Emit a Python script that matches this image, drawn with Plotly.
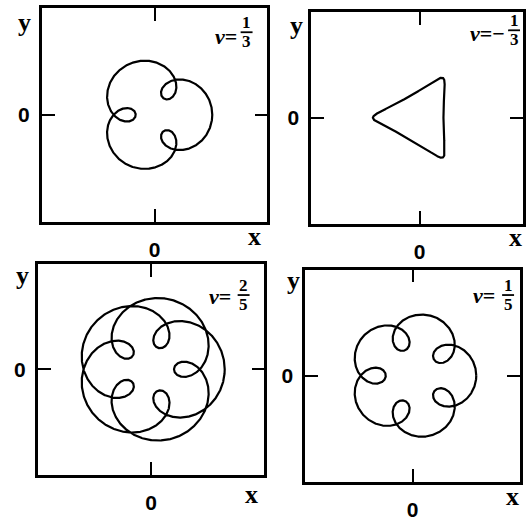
import numpy as np
import plotly.graph_objects as go

# Orbit parameters for the four panels (frequency ratio nu = p/q)
nu_num = [1, -1, 2, 1]
nu_den = [3, 3, 5, 5]
guiding_radius = [0.77, 0.71, 0.97, 0.91]
epicycle_radius = [0.39, 0.23, 0.51, 0.37]
epicycle_phase_deg = [0, 180, 0, 0]
nu_sign = ["", "\u2212", "", ""]
tick_labels = ["0"]

W, H = 526, 521
PX = 50.0  # pixels per data unit

# panel frames in pixels: (left, right, top, bottom); the right-hand frame may run past the page
frames = [
    (42, 269, 8, 227),
    (313, 531, 12, 229),
    (38, 266, 270, 486),
    (307, 523, 276, 493),
]

fig = go.Figure()

for i in range(4):
    nu = nu_num[i] / nu_den[i]
    u = np.linspace(0, 2 * np.pi * nu_den[i], 3000)
    phi = np.deg2rad(epicycle_phase_deg[i])
    z = guiding_radius[i] * np.exp(1j * nu * u) + epicycle_radius[i] * np.exp(1j * ((nu + 1) * u + phi))
    ax = "" if i == 0 else str(i + 1)
    fig.add_trace(go.Scatter(
        x=z.real, y=z.imag, mode="lines",
        line=dict(color="black", width=2.2),
        xaxis="x" + ax, yaxis="y" + ax, hoverinfo="skip",
    ))

    l, r, t, b = frames[i]
    cx, cy = (l + r) / 2, (t + b) / 2
    rc = min(r, W)
    common = dict(
        showline=True, linewidth=2.6, linecolor="black", mirror="ticks",
        ticks="inside", ticklen=13, tickwidth=2, tickcolor="black",
        tickvals=[0], ticktext=tick_labels,
        tickfont=dict(family="Liberation Sans", size=21, color="black", weight="bold"),
        showgrid=False, zeroline=False, fixedrange=True,
    )
    fig.update_layout(**{
        "xaxis" + ax: dict(domain=[l / W, rc / W], range=[(l - cx) / PX, (rc - cx) / PX],
                           anchor="y" + ax, ticklabelstandoff=7, **common),
        "yaxis" + ax: dict(domain=[1 - b / H, 1 - t / H], range=[(cy - b) / PX, (cy - t) / PX],
                           anchor="x" + ax, ticklabelstandoff=5, **common),
    })

def px(x, y):
    return x / W, 1 - y / H

annotations = []
# axis letters
xy_pos = [((256, 242), (25, 23)), ((518, 243), (298, 26)),
          ((253, 506), (23, 282)), ((515, 508), (295, 287))]
for (xp, yp) in xy_pos:
    for txt, pos in (("x", xp), ("y", yp)):
        fx, fy = px(*pos)
        annotations.append(dict(x=fx, y=fy, xref="paper", yref="paper", text=txt,
                                showarrow=False, xanchor="center", yanchor="middle",
                                font=dict(family="Liberation Serif", size=26, color="black",
                                          weight="bold")))

# nu labels: right edge and centre height of "nu =", fraction centre x and bar height
nu_pos = [(239, 37, 248, 33),
          (509, 34, 517, 31),
          (233, 304, 245, 302),
          (499, 302, 511, 302)]
shapes = []
for i, (rx, ry, fxc, by) in enumerate(nu_pos):
    fx, fy = px(rx, ry)
    annotations.append(dict(x=fx, y=fy, xref="paper", yref="paper",
                            text="<i>\u03bd</i>=" + nu_sign[i], showarrow=False,
                            xanchor="right", yanchor="middle", borderpad=0,
                            font=dict(family="Liberation Serif", size=22, color="black",
                                      weight="bold")))
    for val, yy, anchor in ((abs(nu_num[i]), by + 1, "bottom"), (nu_den[i], by - 1, "top")):
        fx, fy = px(fxc, yy)
        annotations.append(dict(x=fx, y=fy, xref="paper", yref="paper", text=str(val),
                                showarrow=False, xanchor="center", yanchor=anchor, borderpad=0,
                                font=dict(family="Liberation Serif", size=17, color="black",
                                          weight="bold")))
    x0, y0 = px(fxc - 6, by)
    x1, _ = px(fxc + 6, by)
    shapes.append(dict(type="line", xref="paper", yref="paper", x0=x0, x1=x1, y0=y0, y1=y0,
                       line=dict(color="black", width=1.8)))

fig.update_layout(
    width=W, height=H, margin=dict(l=0, r=0, t=0, b=0),
    paper_bgcolor="white", plot_bgcolor="white", showlegend=False,
    annotations=annotations, shapes=shapes,
)

fig.write_html("out.html")
